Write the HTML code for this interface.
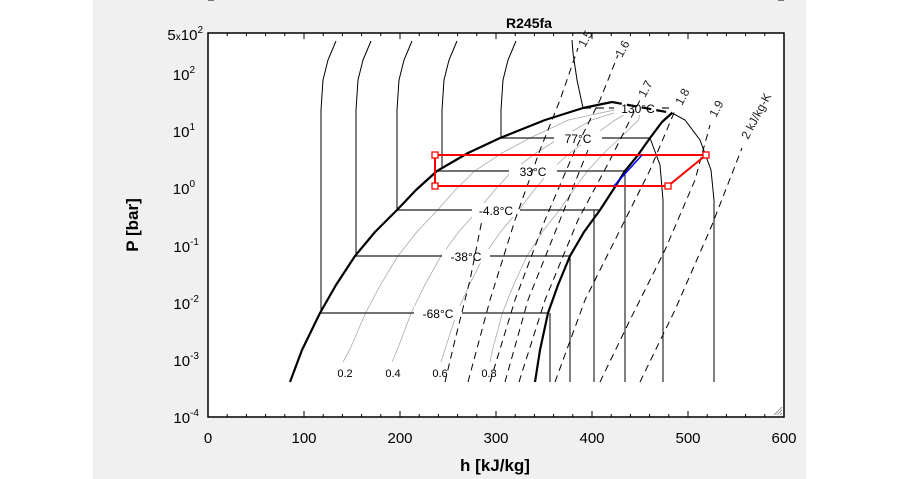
<!DOCTYPE html>
<html><head><meta charset="utf-8"><style>
html,body{margin:0;padding:0;background:#fff;width:898px;height:479px;overflow:hidden}
svg{position:absolute;left:0;top:0}
text{font-family:"Liberation Sans",Arial,sans-serif}
</style></head><body>
<svg id="s" width="898" height="479" viewBox="0 0 898 479" xmlns="http://www.w3.org/2000/svg">
<rect x="93" y="0" width="713" height="479" fill="#f0f0f0"/>
<rect x="208" y="33" width="576" height="384" fill="#fff"/>
<g id="g"></g>
<rect x="208" y="33" width="576" height="384" fill="none" stroke="#000" stroke-width="1.5"/>
<text x="529" y="28" font-size="14" font-weight="bold" text-anchor="middle">R245fa</text>
<text x="495" y="471" font-size="17" font-weight="bold" text-anchor="middle">h [kJ/kg]</text>
<text transform="translate(138,225) rotate(-90)" font-size="17" font-weight="bold" text-anchor="middle">P [bar]</text>
<g font-size="15" text-anchor="middle">
<text x="208" y="443">0</text><text x="304" y="443">100</text><text x="400" y="443">200</text>
<text x="496" y="443">300</text><text x="592" y="443">400</text><text x="688" y="443">500</text><text x="784" y="443">600</text>
</g>
<g font-size="15" text-anchor="end">
<text x="203" y="40"><tspan>5</tspan><tspan font-size="10">x</tspan><tspan>10</tspan><tspan font-size="10" dy="-7">2</tspan></text>
<text x="195" y="80">10<tspan font-size="10" dy="-7">2</tspan></text>
<text x="195" y="137">10<tspan font-size="10" dy="-7">1</tspan></text>
<text x="195" y="194">10<tspan font-size="10" dy="-7">0</tspan></text>
<text x="199" y="252">10<tspan font-size="10" dy="-7">-1</tspan></text>
<text x="199" y="309">10<tspan font-size="10" dy="-7">-2</tspan></text>
<text x="199" y="366">10<tspan font-size="10" dy="-7">-3</tspan></text>
<text x="199" y="423">10<tspan font-size="10" dy="-7">-4</tspan></text>
</g>
<g stroke="#999" stroke-width="1">
<line x1="774" y1="415" x2="782" y2="407"/><line x1="777" y1="415" x2="782" y2="410"/><line x1="780" y1="415" x2="782" y2="413"/>
</g>
</svg>
<script>
var g=document.getElementById('g'),NS='http://www.w3.org/2000/svg';
function el(t,a,txt){var e=document.createElementNS(NS,t);for(var k in a)e.setAttribute(k,a[k]);if(txt)e.textContent=txt;g.appendChild(e);return e;}
function pl(p,a){a.points=p.map(function(q){return q.join(',')}).join(' ');a.fill='none';return el('polyline',a);}
var y0=33,dec=57.3,top=Math.log10(500);
function Y(p){return y0+(top-Math.log10(p))*dec;}
for(var e=-4;e<=2;e++){for(var m=1;m<10;m++){var v=m*Math.pow(10,e);if(v>500)break;var y=Y(v),L=(m==1)?6:3;
el('line',{x1:208,x2:208+L,y1:y,y2:y,stroke:'#000'});el('line',{x1:784,x2:784-L,y1:y,y2:y,stroke:'#000'});}}
for(var h=0;h<=600;h+=20){var x=208+h*0.96,L=(h%100==0)?6:3;el('line',{x1:x,x2:x,y1:417,y2:417-L,stroke:'#000'});el('line',{x1:x,x2:x,y1:33,y2:33+L,stroke:'#000'});}
var LQ=[[290,382],[302,350],[320,313],[336,285],[355,256],[375,232],[397,210],[416,190],[437,171],[468,153],[500,138],[545,120],[583,108],[612,102]];
var VP=[[535,382],[540,350],[548,313],[558,285],[570,256],[584,232],[600,210],[613,190],[625,171],[638,155],[650,138],[662,122],[672,113]];
var C=[642,104];
[0.2,0.4,0.6,0.8].forEach(function(q){var p=[];for(var i=0;i<12;i++){p.push([LQ[i][0]+q*(VP[i][0]-LQ[i][0]),LQ[i][1]]);}p[0][1]=362;p[0][0]+=4;p.push(C);pl(p,{stroke:'#aaa','stroke-width':0.8});});
[[0.2,345],[0.4,393],[0.6,440],[0.8,489]].forEach(function(a){el('text',{x:a[1],y:377,'font-size':11,'text-anchor':'middle'},a[0].toFixed(1));});
[[321,313],[356,256],[397,210],[442,168],[501,138]].forEach(function(a){var x=a[0];pl([[x,a[1]],[x,110],[x+2,80],[x+7,60],[x+15,41]],{stroke:'#000','stroke-width':1});});
pl([[583,108],[577,80],[573,53],[572,40]],{stroke:'#000','stroke-width':1});
[[550,313],[570,256],[594,210],[625,171]].forEach(function(a){pl([[a[0],382],[a[0],a[1]]],{stroke:'#000','stroke-width':1});});
pl([[663,382],[663,200],[660,165],[650,138]],{stroke:'#000','stroke-width':1});
pl([[714,382],[714,200],[711,170],[700,140],[685,120],[672,113]],{stroke:'#000','stroke-width':1});
[[313,320,548,438,'-68°C'],[256,355,570,466,'-38°C'],[210,397,600,496,'-4.8°C'],[171,437,625,533,'33°C'],[138,500,650,578,'77°C']].forEach(function(a){
el('line',{x1:a[1],x2:a[2],y1:a[0],y2:a[0],stroke:'#444','stroke-width':1.6});
el('rect',{x:a[3]-24,y:a[0]-7,width:48,height:14,fill:'#fff'});
el('text',{x:a[3],y:a[0]+5,'font-size':12,'text-anchor':'middle'},a[4]);});
el('line',{x1:583,x2:672,y1:108,y2:108,stroke:'#444','stroke-width':1.6,'stroke-dasharray':'8,5'});
el('rect',{x:614,y:101,width:48,height:14,fill:'#fff'});
el('text',{x:638,y:113,'font-size':12,'text-anchor':'middle'},'130°C');
var S=[[[468,382],[490,300],[515,220],[540,150],[560,100],[578,48]],
[[490,382],[515,300],[545,220],[575,150],[600,100],[618,55]],
[[519,382],[545,300],[578,220],[610,160],[640,100]],
[[555,382],[585,300],[620,230],[650,170],[676,108]],
[[600,382],[630,320],[665,250],[695,180],[710,125]],
[[640,382],[675,310],[712,225],[742,148]],
[[445,382],[455,340],[470,280],[482,220]],
[[505,382],[528,300],[560,220],[588,150]]];
S.forEach(function(p){pl(p,{stroke:'#000','stroke-width':1,'stroke-dasharray':'7,5'});});
[[585,48,'1.5'],[622,58,'1.6'],[645,98,'1.7'],[682,106,'1.8'],[716,118,'1.9'],[748,140,'2 kJ/kg-K']].forEach(function(a){
el('text',{x:a[0],y:a[1],'font-size':12,transform:'rotate(-62 '+a[0]+' '+a[1]+')',fill:'#222'},a[2]);});
pl(LQ,{stroke:'#000','stroke-width':2.2,'stroke-linejoin':'round'});
pl([[612,102],[672,113]],{stroke:'#000','stroke-width':2.2,'stroke-dasharray':'10,5'});
pl(VP,{stroke:'#000','stroke-width':2.2,'stroke-linejoin':'round'});
pl([[435,155],[706,155],[668,186],[435,186],[435,155]],{stroke:'#f00','stroke-width':2});
pl([[614,186],[642,155]],{stroke:'#00f','stroke-width':1.5});
[[435,155],[435,186],[706,155],[668,186]].forEach(function(p){el('rect',{x:p[0]-3,y:p[1]-3,width:6,height:6,fill:'#fff',stroke:'#f00','stroke-width':1.3});});
</script>
</body></html>
